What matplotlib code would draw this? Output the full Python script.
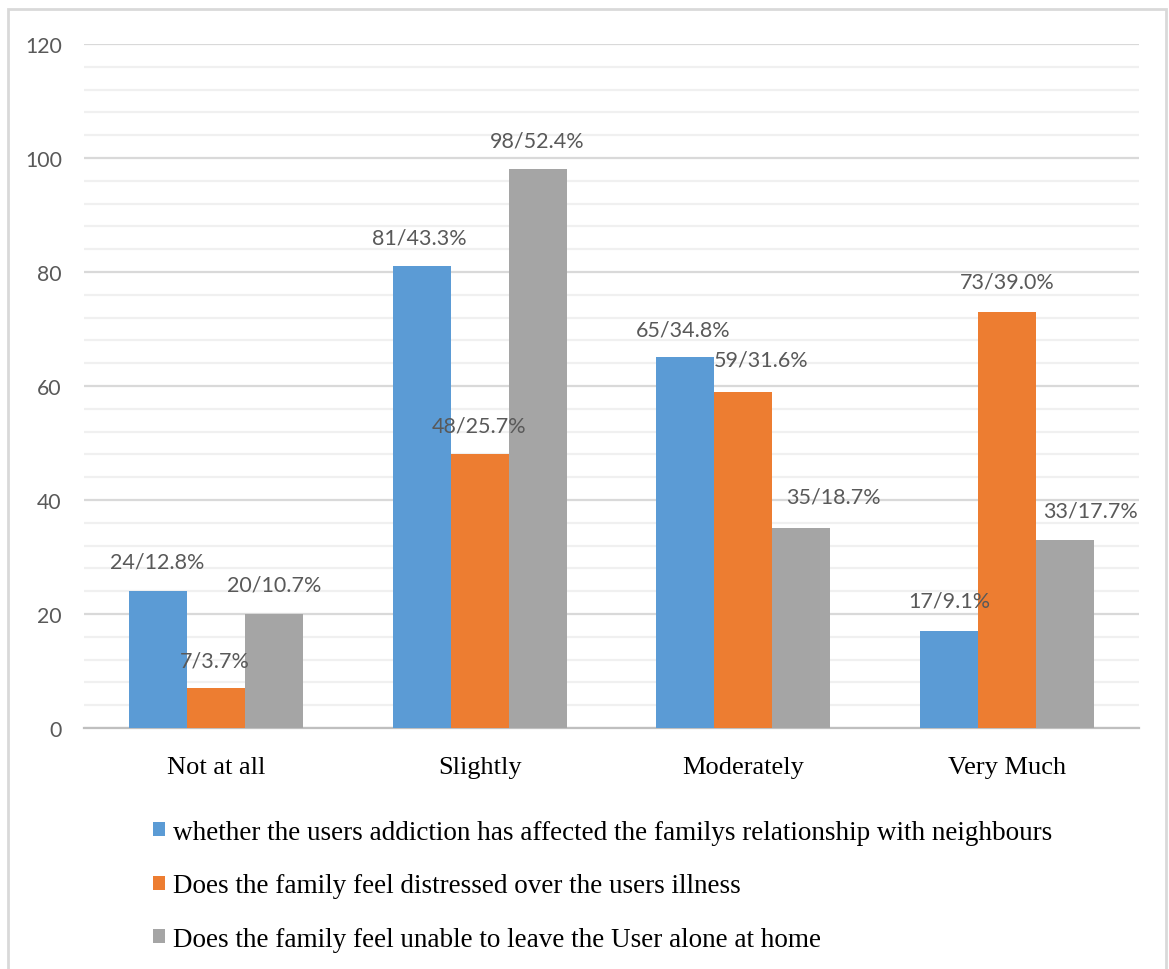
import numpy as np
import matplotlib.pyplot as plt
from matplotlib.patches import Rectangle

categories = ["Not at all", "Slightly", "Moderately", "Very Much"]
series_names = [
    "whether the users addiction has affected the familys relationship with neighbours",
    "Does the family feel distressed over the users illness",
    "Does the family feel unable to leave the User alone at home",
]
neighbours = [24, 81, 65, 17]
distressed = [7, 48, 59, 73]
alone = [20, 98, 35, 33]
neighbours_lbl = ["24/12.8%", "81/43.3%", "65/34.8%", "17/9.1%"]
distressed_lbl = ["7/3.7%", "48/25.7%", "59/31.6%", "73/39.0%"]
alone_lbl = ["20/10.7%", "98/52.4%", "35/18.7%", "33/17.7%"]

colors = ["#5B9BD5", "#ED7D31", "#A5A5A5"]
# label offsets in pixels from bar top centre (some labels were hand-moved in the original)
offsets = [
    [(-1, 30), (-2, 29), (-2, 28), (0, 31)],
    [(-1, 28), (-1, 29), (18, 32), (0, 30)],
    [(0, 29), (0, 29), (32, 32), (25, 29)],
]

fig = plt.figure(figsize=(11.69, 9.70), dpi=100)
ax = fig.add_axes([0.0719, 0.2485, 0.9024, 0.7051])

x = np.arange(len(categories))
w = 0.22
data = [neighbours, distressed, alone]
labels = [neighbours_lbl, distressed_lbl, alone_lbl]
for i, (vals, lbls) in enumerate(zip(data, labels)):
    pos = x + (i - 1) * w
    ax.bar(pos, vals, w, color=colors[i], label=series_names[i], zorder=3)
    for j in range(len(vals)):
        dx, dy = offsets[i][j]
        ax.annotate(lbls[j], (pos[j], vals[j]), xytext=(dx, dy),
                    textcoords="offset pixels", ha="center", va="center",
                    fontsize=15.5, color="#595959", family="Lato", zorder=4)

ax.set_xlim(-0.5, 3.5)
ax.set_ylim(0, 120)
ax.set_yticks(np.arange(0, 121, 20))
ax.set_yticks(np.arange(0, 121, 4), minor=True)
ax.grid(axis="y", which="major", color="#d9d9d9", linewidth=1.6, zorder=0)
ax.grid(axis="y", which="minor", color="#f0f0f0", linewidth=1.6, zorder=0)
ax.tick_params(axis="both", which="both", length=0)
ax.tick_params(axis="y", pad=16, labelsize=15.3, labelcolor="#595959")
ax.tick_params(axis="x", pad=20, labelsize=19)
ax.set_xticks(x)
ax.set_xticklabels(categories, family="Liberation Serif")
for lab in ax.get_yticklabels():
    lab.set_family("Lato")
for s in ["top", "right", "left"]:
    ax.spines[s].set_visible(False)
ax.spines["bottom"].set_color("#bfbfbf")
ax.spines["bottom"].set_linewidth(1.6)

fig.legend(loc="upper left", bbox_to_anchor=(0.122, 0.165), frameon=False,
           prop={"family": "Liberation Serif", "size": 19.5},
           handlelength=0.42, handleheight=0.42, handletextpad=0.3,
           labelspacing=1.05, borderaxespad=0)

fig.patches.append(Rectangle((8 / 1169, -0.01), 1158 / 1169, 1 - 10 / 970 + 0.01,
                             transform=fig.transFigure, fill=False,
                             edgecolor="#d9d9d9", linewidth=2))

fig.savefig("out.png", dpi=100)
